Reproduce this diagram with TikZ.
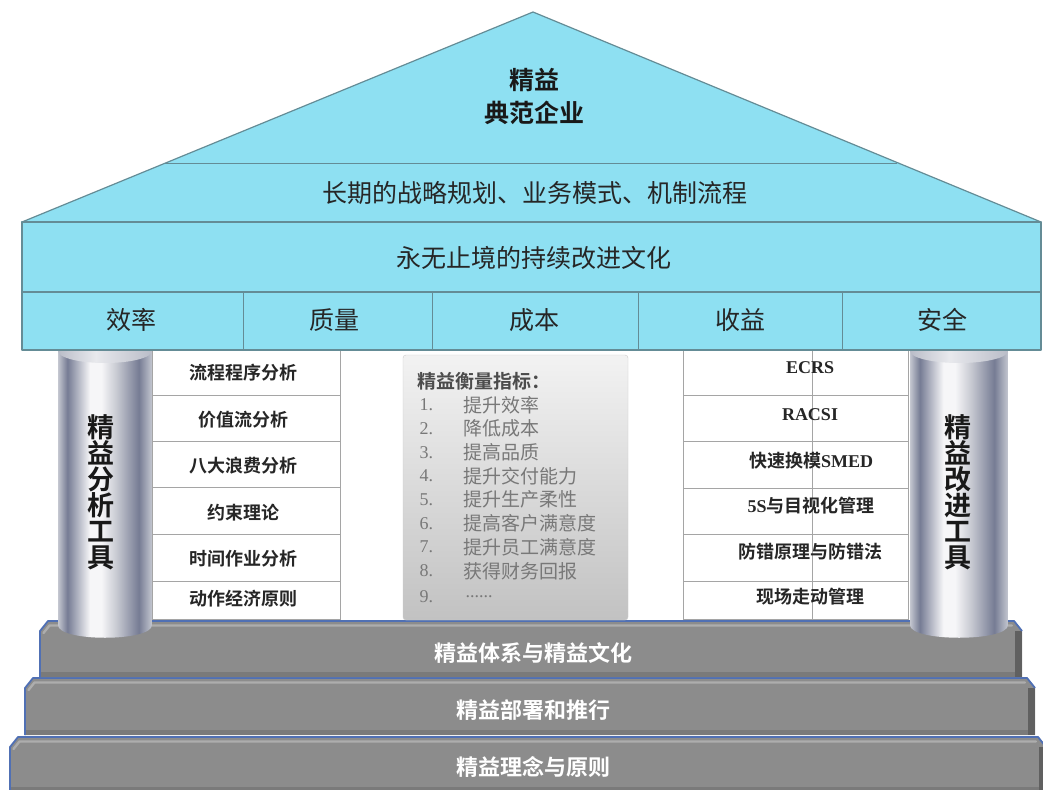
\documentclass[tikz,border=0pt]{standalone}
\usepackage{fontspec}
\setmainfont{Noto Sans CJK SC}[BoldFont={Noto Sans CJK SC Bold}]
\newfontfamily\serif{Liberation Serif}
\definecolor{roof}{RGB}{142,224,242}
\definecolor{roofedge}{RGB}{100,140,150}
\definecolor{cellline}{RGB}{165,165,165}
\definecolor{stepgray}{RGB}{140,140,140}
\definecolor{stepdark}{RGB}{96,96,96}
\definecolor{stepblue}{RGB}{80,112,180}
\definecolor{pA}{RGB}{196,199,208}
\definecolor{pB}{RGB}{118,124,148}
\definecolor{pC}{RGB}{246,246,248}
\definecolor{pD}{RGB}{200,202,210}
\definecolor{capA}{RGB}{186,189,200}
\definecolor{capB}{RGB}{232,233,237}
\definecolor{listgray}{RGB}{120,120,120}
\pgfdeclarehorizontalshading{pillar}{100bp}{color(0bp)=(pA); color(25bp)=(pA); color(30bp)=(pB); color(42bp)=(pC); color(48bp)=(pC); color(56bp)=(pD); color(68bp)=(pB); color(75bp)=(pA); color(100bp)=(pA)}
\pgfdeclarehorizontalshading{pillarcap}{100bp}{color(0bp)=(capA); color(25bp)=(capA); color(45bp)=(capB); color(75bp)=(capA); color(100bp)=(capA)}
\tikzset{
  roofpart/.style={fill=roof, draw=roofedge, line width=1.2pt, line join=round},
  cell/.style={fill=white, draw=cellline, line width=1pt},
  celltext/.style={font=\bfseries\fontsize{18}{20}\selectfont, text=black!85},
  rooftext/.style={font=\fontsize{25}{28}\selectfont, text=black!85},
  pillartext/.style={font=\bfseries\fontsize{27}{26}\selectfont, align=center, text=black!90},
  steptext/.style={font=\bfseries\fontsize{22}{24}\selectfont, text=white},
  listnum/.style={anchor=west, font=\serif\fontsize{18}{20}\selectfont, text=listgray},
  listitem/.style={anchor=west, font=\fontsize{19}{21}\selectfont, text=listgray},
}
\newcommand{\stepbar}[4]{%
  \fill[stepgray] (#1,#3+10) -- (#1+8,#3) -- (#2-8,#3) -- (#2,#3+10) -- (#2,#4) -- (#1,#4) -- cycle;
  \fill[black!52] (#1,#4-5) rectangle (#2,#4);
  \fill[stepdark] (#2-7,#3+10) -- (#2,#3+10) -- (#2,#4) -- (#2-7,#4) -- cycle;
  \draw[black!32, line width=2.4pt, line cap=round, line join=round] (#1+3.5,#3+12) -- (#1+9.5,#3+4.5) -- (#2-10,#3+4.5);
  \draw[stepblue, line width=1.8pt, line join=round] (#1,#4) -- (#1,#3+10) -- (#1+8,#3) -- (#2-8,#3) -- (#2,#3+10);
}
\begin{document}
\begin{tikzpicture}[x=1pt,y=-1pt]
\useasboundingbox (0,0) rectangle (1043,789);
\fill[white] (0,0) rectangle (1043,789);

% foundation steps
\stepbar{10}{1046}{737}{792}
\node[steptext] (base3) at (533,767) {精益理念与原则};
\stepbar{25}{1035}{678}{735}
\node[steptext] (base2) at (533,710) {精益部署和推行};
\stepbar{40}{1022}{621}{677}
\node[steptext] (base1) at (533,653) {精益体系与精益文化};

% pillars
\shade[shading=pillar] (58,340) -- (58,625) .. controls (58,642) and (152,642) .. (152,625) -- (152,340) -- cycle;
\shade[shading=pillarcap] (105,351) ellipse [x radius=47, y radius=12];
\shade[shading=pillar] (910,340) -- (910,625) .. controls (910,642) and (1008,642) .. (1008,625) -- (1008,340) -- cycle;
\shade[shading=pillarcap] (959,351) ellipse [x radius=49, y radius=12];
\node[pillartext] (ltool) at (101,492) {精\\益\\分\\析\\工\\具};
\node[pillartext] (rtool) at (958,492) {精\\益\\改\\进\\工\\具};

% left table
\foreach \ya/\yb in {350/395,395/441,441/487,487/534,534/581,581/619}
  \draw[cell] (152,\ya) rectangle (340,\yb);
\node[celltext] (l1) at (243,373) {流程程序分析};
\node[celltext] (l2) at (243,420) {价值流分析};
\node[celltext] (l3) at (243,466) {八大浪费分析};
\node[celltext] (l4) at (243,513) {约束理论};
\node[celltext] (l5) at (243,559) {时间作业分析};
\node[celltext] (l6) at (243,599) {动作经济原则};

% right table
\foreach \ya/\yb in {350/395,395/441,441/488,488/534,534/581,581/619}
  \draw[cell] (683,\ya) rectangle (908,\yb);
\draw[cellline, line width=1pt] (812,350) -- (812,619);
\node[celltext, font=\serif\bfseries\fontsize{18}{20}\selectfont] (r1) at (810,368) {ECRS};
\node[celltext, font=\serif\bfseries\fontsize{18}{20}\selectfont] (r2) at (810,415) {RACSI};
\node[celltext] (r3) at (811,461) {快速换模{\serif\bfseries SMED}};
\node[celltext] (r4) at (811,506) {{\serif\bfseries 5S}与目视化管理};
\node[celltext] (r5) at (810,552) {防错原理与防错法};
\node[celltext] (r6) at (810,597) {现场走动管理};

% middle metrics box
\shade[top color=black!5, bottom color=black!24, draw=black!20, rounded corners=3pt] (403,355) rectangle (628,620);
\node[anchor=west, font=\bfseries\fontsize{19}{21}\selectfont, text=black!70] (mhead) at (414,381) {精益衡量指标：};
\foreach \i/\t [count=\k from 0] in {1/提升效率,2/降低成本,3/提高品质,4/提升交付能力,5/提升生产柔性,6/提高客户满意度,7/提升员工满意度,8/获得财务回报} {
  \node[listnum] (n\i) at (416,405+\k*23.7) {\i.};
  \node[listitem] (m\i) at (460,405+\k*23.7) {\t};
}
\node[listnum] (n9) at (416,597) {9.};
\node[listitem, font=\serif\fontsize{18}{20}\selectfont] (m9) at (462,597) {......};

% roof
\draw[roofpart] (22,222) -- (533,12) -- (1041,222) -- cycle;
\draw[roofedge, line width=0.8pt] (165,163) -- (897,163);
\draw[roofpart] (22,222) rectangle (1041,292);
\draw[roofpart] (22,292) rectangle (1041,350);
\foreach \x in {243,432,638,842}
  \draw[roofedge, line width=0.8pt] (\x,292) -- (\x,350);
\node[font=\bfseries\fontsize{25}{33}\selectfont, align=center, text=black!90] (title) at (534,96) {精益\\典范企业};
\node[rooftext] (strategy) at (535,193) {长期的战略规划、业务模式、机制流程};
\node[rooftext] (culture) at (534,258) {永无止境的持续改进文化};
\node[rooftext] (k1) at (131,320) {效率};
\node[rooftext] (k2) at (334,320) {质量};
\node[rooftext] (k3) at (534,320) {成本};
\node[rooftext] (k4) at (740,320) {收益};
\node[rooftext] (k5) at (942,320) {安全};
\end{tikzpicture}
\end{document}
